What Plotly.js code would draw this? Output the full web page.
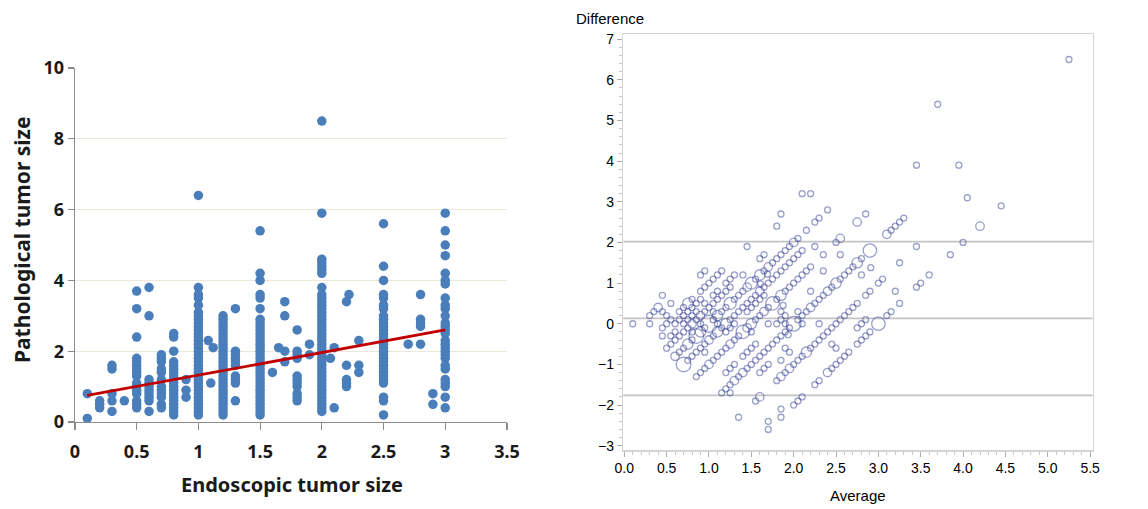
<!DOCTYPE html>
<html>
<head>
<meta charset="utf-8">
<script src="https://cdn.plot.ly/plotly-3.0.1.min.js"></script>
<style>html,body{margin:0;padding:0;background:#fff;}#chart{width:1148px;height:509px;}</style>
</head>
<body>
<div id="chart"></div>
<script>
// Endoscopic vs pathological tumor size (cm), one entry per distinct pair
var endoscopicSize = [
 0.1,0.1,
 0.2,0.2,0.2,
 0.3,0.3,0.3,0.3,0.3,
 0.4,
 0.5,0.5,0.5,0.5,0.5,0.5,0.5,0.5,0.5,0.5,0.5,0.5,0.5,0.5,0.5,0.5,
 0.6,0.6,0.6,0.6,0.6,0.6,0.6,0.6,0.6,0.6,
 0.7,0.7,0.7,0.7,0.7,0.7,0.7,0.7,0.7,0.7,0.7,0.7,
 0.8,0.8,0.8,0.8,0.8,0.8,0.8,0.8,0.8,0.8,0.8,0.8,0.8,0.8,0.8,0.8,0.8,0.8,0.8,
 0.9,0.9,0.9,
 1.0,1.0,1.0,1.0,1.0,1.0,1.0,1.0,1.0,1.0,1.0,1.0,1.0,1.0,1.0,1.0,1.0,1.0,1.0,1.0,1.0,1.0,1.0,1.0,1.0,1.0,1.0,1.0,1.0,1.0,1.0,1.0,1.0,1.0,1.0,
 1.08,1.1,1.12,
 1.2,1.2,1.2,1.2,1.2,1.2,1.2,1.2,1.2,1.2,1.2,1.2,1.2,1.2,1.2,1.2,1.2,1.2,1.2,1.2,1.2,1.2,1.2,1.2,1.2,1.2,1.2,1.2,1.2,
 1.3,1.3,1.3,1.3,1.3,1.3,1.3,1.3,1.3,1.3,
 1.5,1.5,1.5,1.5,1.5,1.5,1.5,1.5,1.5,1.5,1.5,1.5,1.5,1.5,1.5,1.5,1.5,1.5,1.5,1.5,1.5,1.5,1.5,1.5,1.5,1.5,1.5,1.5,1.5,1.5,1.5,1.5,1.5,1.5,
 1.6,
 1.65,1.7,1.7,1.7,1.7,
 1.8,1.8,1.8,1.8,1.8,1.8,1.8,1.8,1.8,1.8,1.8,
 1.9,1.9,
 2.0,2.0,2.0,2.0,2.0,2.0,2.0,2.0,2.0,2.0,2.0,2.0,2.0,2.0,2.0,2.0,2.0,2.0,2.0,2.0,2.0,2.0,2.0,2.0,2.0,2.0,2.0,2.0,2.0,2.0,2.0,2.0,2.0,2.0,2.0,2.0,2.0,2.0,2.0,2.0,2.0,2.0,
 2.07,2.1,2.1,
 2.2,2.2,2.2,2.2,2.2,2.22,
 2.3,2.3,2.3,
 2.5,2.5,2.5,2.5,2.5,2.5,2.5,2.5,2.5,2.5,2.5,2.5,2.5,2.5,2.5,2.5,2.5,2.5,2.5,2.5,2.5,2.5,2.5,2.5,2.5,2.5,2.5,2.5,2.5,2.5,
 2.7,
 2.8,2.8,2.8,2.8,2.8,
 2.9,2.9,
 3.0,3.0,3.0,3.0,3.0,3.0,3.0,3.0,3.0,3.0,3.0,3.0,3.0,3.0,3.0,3.0,3.0,3.0,3.0,3.0,3.0,3.0,3.0,3.0,3.0,3.0,3.0,3.0
];
var pathologicalSize = [
 0.1,0.8,
 0.4,0.5,0.6,
 0.3,0.6,0.8,1.5,1.6,
 0.6,
 0.4,0.5,0.6,0.8,0.9,1.0,1.1,1.3,1.4,1.5,1.6,1.7,1.8,2.4,3.2,3.7,
 0.3,0.6,0.7,0.8,0.9,1.0,1.1,1.2,3.0,3.8,
 0.4,0.5,0.7,0.8,0.9,1.0,1.2,1.4,1.5,1.7,1.8,1.9,
 0.2,0.3,0.4,0.5,0.6,0.7,0.8,0.9,1.0,1.1,1.2,1.3,1.4,1.5,1.6,1.7,2.0,2.4,2.5,
 0.7,0.9,1.2,
 0.2,0.3,0.4,0.5,0.6,0.7,0.8,0.9,1.0,1.1,1.2,1.3,1.4,1.5,1.6,1.7,1.8,1.9,2.0,2.1,2.2,2.3,2.4,2.5,2.6,2.7,2.8,2.9,3.0,3.1,3.3,3.5,3.6,3.8,6.4,
 2.3,1.1,2.1,
 0.2,0.3,0.4,0.5,0.6,0.7,0.8,0.9,1.0,1.1,1.2,1.3,1.4,1.5,1.6,1.7,1.8,1.9,2.0,2.1,2.2,2.3,2.4,2.5,2.6,2.7,2.8,2.9,3.0,
 0.6,1.1,1.2,1.3,1.6,1.7,1.8,1.9,2.0,3.2,
 0.2,0.3,0.4,0.5,0.6,0.7,0.8,0.9,1.0,1.1,1.2,1.3,1.4,1.5,1.6,1.7,1.8,1.9,2.0,2.1,2.2,2.3,2.4,2.5,2.6,2.7,2.8,2.9,3.2,3.5,3.6,4.0,4.2,5.4,
 1.4,
 2.1,1.7,2.0,3.0,3.4,
 0.6,0.7,0.8,1.0,1.1,1.2,1.3,1.8,1.9,2.0,2.6,
 1.9,2.2,
 0.3,0.4,0.5,0.6,0.7,0.8,0.9,1.0,1.1,1.2,1.3,1.4,1.5,1.6,1.7,1.8,1.9,2.0,2.1,2.2,2.3,2.4,2.5,2.6,2.7,2.8,2.9,3.0,3.1,3.2,3.3,3.4,3.5,3.6,3.8,4.2,4.3,4.4,4.5,4.6,5.9,8.5,
 1.8,0.4,2.1,
 1.0,1.2,1.6,3.4,1.1,3.6,
 1.4,1.6,2.3,
 0.2,0.6,0.7,1.1,1.2,1.3,1.4,1.5,1.6,1.7,1.8,1.9,2.0,2.1,2.2,2.3,2.4,2.5,2.6,2.7,2.8,2.9,3.0,3.2,3.3,3.5,3.6,4.0,4.4,5.6,
 2.2,
 2.2,2.7,2.8,2.9,3.6,
 0.5,0.8,
 0.4,0.7,1.0,1.1,1.2,1.5,1.6,1.8,1.9,2.0,2.1,2.2,2.3,2.5,2.6,2.7,2.8,3.0,3.2,3.3,3.5,3.9,4.0,4.2,4.7,5.0,5.4,5.9
];
// pairs shared by several tumours (all other pairs: one tumour)
var repeatedEndo  = [0.2, 0.5, 0.8, 0.8, 1.0, 1.0, 1.0, 1.0, 1.0, 1.0, 1.0, 1.0, 1.0, 1.0, 1.0, 1.0, 1.2, 1.2, 1.2, 1.2, 1.2, 1.5, 1.5, 1.5, 1.5, 1.5, 1.5, 1.5, 1.5, 1.5, 1.5, 2.0, 2.0, 2.0, 2.0, 2.0, 2.0, 2.0, 2.0, 2.0, 2.5, 2.5, 2.5, 2.5, 2.5, 3.0, 3.0, 3.0, 3.0];
var repeatedPath  = [0.6, 1.0, 0.8, 1.0, 0.2, 0.5, 0.7, 0.8, 1.0, 1.2, 1.5, 1.9, 2.0, 2.2, 2.4, 3.0, 0.2, 0.8, 1.0, 1.2, 2.0, 1.0, 1.3, 1.4, 1.5, 1.8, 2.0, 2.2, 3.6, 4.0, 0.5, 0.8, 2.0, 2.4, 2.8, 3.0, 3.5, 3.8, 4.2, 0.6, 0.7, 1.2, 1.4, 1.8, 1.0, 1.8, 3.0, 5.4];
var repeatedCount = [2, 3, 2, 2, 2, 3, 6, 3, 8, 3, 4, 2, 4, 3, 2, 2, 6, 2, 3, 3, 2, 2, 5, 2, 3, 2, 5, 3, 2, 2, 2, 2, 6, 2, 2, 3, 3, 5, 2, 2, 2, 2, 2, 3, 2, 2, 5, 2];
// regression line
var fitIntercept = [0.686];
var fitSlope = [0.638];
// Bland-Altman reference lines
var meanDifference = [0.13];
var limitsOfAgreement = [2.02, -1.76];

var leftXTicks = [0, 0.5, 1, 1.5, 2, 2.5, 3, 3.5];
var leftYTicks = [0, 2, 4, 6, 8, 10];
var rightXTicks = [0.0, 0.5, 1.0, 1.5, 2.0, 2.5, 3.0, 3.5, 4.0, 4.5, 5.0, 5.5];
var rightYTicks = [-3, -2, -1, 0, 1, 2, 3, 4, 5, 6, 7];

var nCases = endoscopicSize.map(function(e, i){
 var p = pathologicalSize[i];
 for (var k = 0; k < repeatedEndo.length; k++) {
  if (Math.abs(repeatedEndo[k] - e) < 1e-9 && Math.abs(repeatedPath[k] - p) < 1e-9) return repeatedCount[k];
 }
 return 1;
});
// derived Bland-Altman values
var avgVals = endoscopicSize.map(function(e, i){ return (e + pathologicalSize[i]) / 2; });
var diffVals = endoscopicSize.map(function(e, i){ return pathologicalSize[i] - e; });
var circleSizes = nCases.map(function(n){ return 6 * Math.sqrt(n); });

var xmin = Math.min.apply(null, endoscopicSize), xmax = Math.max.apply(null, endoscopicSize);
var fitX = [xmin, xmax];
var fitY = fitX.map(function(x){ return fitIntercept[0] + fitSlope[0] * x; });

var leftFont = {family: "'Noto Sans', 'DejaVu Sans', sans-serif", size: 18, color: '#1a1a1a', weight: 'bold'};
var rightFont = {family: "'Liberation Sans Narrow', 'Liberation Sans', Arial, sans-serif", size: 14, color: '#000'};

var traces = [
 {type: 'scatter', mode: 'markers', x: endoscopicSize, y: pathologicalSize, xaxis: 'x', yaxis: 'y',
  marker: {color: '#4a7ebb', size: 9.5, line: {width: 0}}, hoverinfo: 'x+y'},
 {type: 'scatter', mode: 'lines', x: fitX, y: fitY, xaxis: 'x', yaxis: 'y',
  line: {color: '#c00000', width: 2.8}},
 {type: 'scatter', mode: 'markers', x: avgVals, y: diffVals, xaxis: 'x2', yaxis: 'y2',
  marker: {symbol: 'circle-open', color: 'rgba(55,65,150,0.72)', size: circleSizes, line: {width: 1.3}}}
];

var refLines = [meanDifference[0], limitsOfAgreement[0], limitsOfAgreement[1]];
var shapes = refLines.map(function(v){
 return {type: 'line', xref: 'x2 domain', yref: 'y2', x0: 0, x1: 1, y0: v, y1: v,
  line: {color: '#c4c4c4', width: 1.8}, layer: 'below'};
});

var layout = {
 width: 1148, height: 509,
 margin: {l: 0, r: 0, t: 0, b: 0},
 paper_bgcolor: '#ffffff', plot_bgcolor: 'rgba(0,0,0,0)',
 showlegend: false,
 xaxis: {domain: [0.0653, 0.4416], range: [0, 3.5], tickvals: leftXTicks, ticktext: leftXTicks.map(String),
  showgrid: false, zeroline: false, showline: true, linecolor: '#8c8c8c', linewidth: 1.2,
  ticks: 'outside', ticklen: 7, tickcolor: '#8c8c8c', tickwidth: 1.2, tickfont: leftFont, ticklabelstandoff: 6, anchor: 'y'},
 yaxis: {domain: [0.1709, 0.8664], range: [0, 10], tickvals: leftYTicks,
  showgrid: true, gridcolor: '#ebe7da', gridwidth: 1, zeroline: false, showline: true, linecolor: '#8c8c8c', linewidth: 1.2,
  ticks: 'outside', ticklen: 6, tickcolor: '#8c8c8c', tickwidth: 1.2, tickfont: leftFont, anchor: 'x'},
 xaxis2: {domain: [0.5429, 0.9518], range: [-0.012, 5.53], tickvals: rightXTicks, ticktext: rightXTicks.map(function(v){return v.toFixed(1);}),
  showgrid: false, zeroline: false, showline: true, mirror: true, linecolor: '#d4d4d4', linewidth: 1.5,
  ticks: 'outside', ticklen: 5, tickcolor: '#aaaaaa', tickfont: rightFont, anchor: 'y2',
  minor: {dtick: 0.1, ticks: 'outside', ticklen: 3, tickcolor: '#c8c8c8', showgrid: false}},
 yaxis2: {domain: [0.1159, 0.9326], range: [-3.106, 7.12], tickvals: rightYTicks,
  showgrid: false, zeroline: false, showline: true, mirror: true, linecolor: '#d4d4d4', linewidth: 1.5,
  ticks: 'outside', ticklen: 5, tickcolor: '#aaaaaa', tickfont: rightFont, anchor: 'x2',
  minor: {dtick: 0.2, ticks: 'outside', ticklen: 3, tickcolor: '#c8c8c8', showgrid: false}},
 shapes: shapes,
 annotations: [
  {text: 'Endoscopic tumor size', xref: 'paper', yref: 'paper', x: 292/1148, y: 1 - 484/509, xanchor: 'center', yanchor: 'middle', showarrow: false,
   font: {family: leftFont.family, size: 20, color: '#1a1a1a', weight: 'bold'}},
  {text: 'Pathological tumor size', xref: 'paper', yref: 'paper', x: 22/1148, y: 1 - 240/509, xanchor: 'center', yanchor: 'middle', showarrow: false, textangle: -90,
   font: {family: leftFont.family, size: 21, color: '#1a1a1a', weight: 'bold'}},
  {text: 'Difference', xref: 'paper', yref: 'paper', x: 610/1148, y: 1 - 18/509, xanchor: 'center', yanchor: 'middle', showarrow: false,
   font: {family: rightFont.family, size: 15, color: '#000'}},
  {text: 'Average', xref: 'paper', yref: 'paper', x: 858/1148, y: 1 - 495/509, xanchor: 'center', yanchor: 'middle', showarrow: false,
   font: {family: rightFont.family, size: 15, color: '#000'}}
 ]
};

Plotly.newPlot('chart', traces, layout, {displayModeBar: false, staticPlot: true});
</script>
</body>
</html>
